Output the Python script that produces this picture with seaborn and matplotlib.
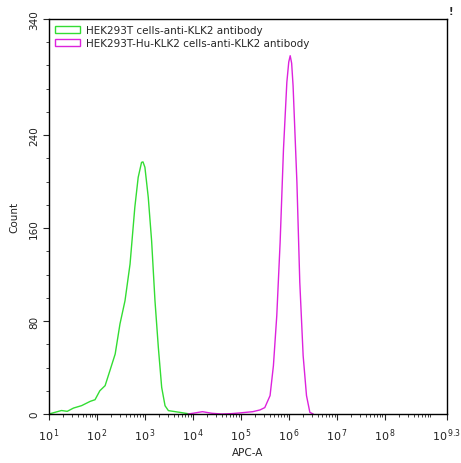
import numpy as np
import pandas as pd
import matplotlib
matplotlib.use("Agg")
import matplotlib.pyplot as plt
import matplotlib.ticker as mticker
from matplotlib.patches import Patch
import seaborn as sns

# ============================================================
# DATOS
# ============================================================
etiquetas = ["HEK293T cells-anti-KLK2 antibody",
             "HEK293T-Hu-KLK2 cells-anti-KLK2 antibody"]
colores = ["#33dd33", "#dd22dd"]

# log10(APC-A) y conteos
verde_log = [1.0, 1.13, 1.26, 1.38, 1.51, 1.68, 1.86, 1.96, 2.06, 2.17, 2.27,
             2.38, 2.48, 2.585, 2.69, 2.79, 2.86, 2.93, 2.96, 3.00, 3.07, 3.14,
             3.21, 3.28, 3.35, 3.42, 3.49, 3.73, 3.94]
verde_count = [0, 1.5, 3, 2.3, 5.1, 7.2, 10.9, 12.3, 20.0, 24.4, 37.3,
               51.6, 77.5, 97.5, 129, 178, 203.7, 216.6, 217, 212.4, 186.5, 149,
               97.5, 57.4, 22.9, 7.1, 2.9, 1.4, 0]

magenta_log = [3.9, 4.0, 4.2, 4.4, 4.6, 4.8, 5.0, 5.25, 5.40, 5.50, 5.61,
               5.68, 5.75, 5.82, 5.89, 5.96, 6.00, 6.03, 6.06, 6.09, 6.17,
               6.23, 6.30, 6.37, 6.44, 6.51]
magenta_count = [0, 0.6, 2, 0.6, 0, 0.3, 1.0, 2, 3.5, 5.5, 15.8,
                 41.6, 84.6, 147.8, 228, 285.5, 303, 308.4, 302, 282.6, 199.4,
                 113.4, 50.2, 15.8, 1.4, 0]

x_ticks_exp = [1, 2, 3, 4, 5, 6, 7, 8, 9.3]
y_ticks = [0, 80, 160, 240, 340]

df = pd.concat([
    pd.DataFrame({"APC": 10 ** np.array(verde_log), "Count": verde_count,
                  "grupo": etiquetas[0]}),
    pd.DataFrame({"APC": 10 ** np.array(magenta_log), "Count": magenta_count,
                  "grupo": etiquetas[1]}),
])

# ============================================================
# FIGURA
# ============================================================
sns.set_style("white")
plt.rcParams['font.family'] = ['DejaVu Sans']
plt.rcParams['mathtext.default'] = 'regular'

fig = plt.figure(figsize=(4.61, 4.64), dpi=100)
ax = fig.add_axes([49 / 461, 1 - 415 / 464, 398 / 461, 395 / 464])

sns.lineplot(data=df, x="APC", y="Count", hue="grupo", palette=colores,
             linewidth=1, sort=False, legend=False, ax=ax)

ax.set_xscale("log")
ax.set_xlim(10 ** 1, 10 ** 9.3)
ax.set_ylim(0, 340)

ax.set_xticks([10 ** e for e in x_ticks_exp])
ax.set_xticklabels([f"$10^{{\\,{e:g}}}$" for e in x_ticks_exp], fontsize=8,
                   color="#222222")
ax.xaxis.set_minor_locator(mticker.LogLocator(base=10, subs=np.arange(2, 10),
                                              numticks=20))
ax.xaxis.set_minor_formatter(mticker.NullFormatter())

ax.set_yticks(y_ticks)
ax.set_yticklabels([str(v) for v in y_ticks], rotation=90, va="center",
                   fontsize=7.5, color="#222222")
ax.yaxis.set_minor_locator(mticker.MultipleLocator(20))

ax.tick_params(axis="x", which="major", direction="out", length=4, width=0.8,
               bottom=True, pad=5)
ax.tick_params(axis="y", which="major", direction="out", length=4, width=0.8,
               left=True, pad=3)
ax.tick_params(which="minor", direction="out", length=2.5, width=0.6,
               bottom=True, left=True)

for s in ax.spines.values():
    s.set_color("black")
    s.set_linewidth(1)

ax.set_xlabel("APC-A", fontsize=7.5, color="#222222", labelpad=3)
ax.set_ylabel("Count", fontsize=7.5, color="#222222", labelpad=7)

handles = [Patch(facecolor="none", edgecolor=c, linewidth=1, label=l)
           for c, l in zip(colores, etiquetas)]
ax.legend(handles=handles, loc="upper left", frameon=False, fontsize=7.5,
          handlelength=2.4, handleheight=0.7, borderaxespad=0.2,
          labelspacing=0.3, handletextpad=0.6)

fig.text(451 / 461, 1 - 12 / 464, "!", fontsize=7, fontweight="bold",
         ha="center", va="center")

plt.savefig("out.png", dpi=100)
